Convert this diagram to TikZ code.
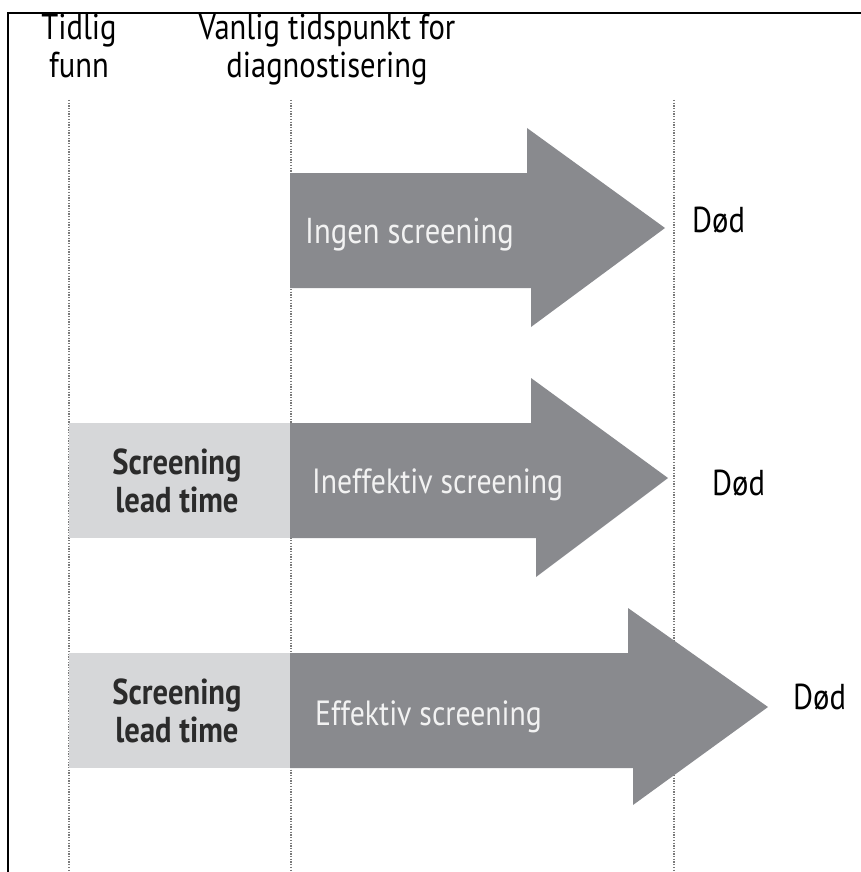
\documentclass[tikz,border=0pt]{standalone}
\usepackage{fontspec}
\setmainfont[FakeStretch=0.85]{PT Sans}
\usepackage{xcolor}
\definecolor{arrowgray}{HTML}{898A8E}
\definecolor{leadgray}{HTML}{D6D7D9}
\definecolor{leadtext}{HTML}{2B2B2B}
\definecolor{arrowtext}{HTML}{F2F2F2}
\definecolor{guidegray}{HTML}{7A7A7A}
\newcommand{\lblfont}{\fontsize{36}{38}\selectfont}
\newcommand{\dodfont}{\fontsize{36}{38}\selectfont}
\tikzset{
  lbl_n/.style = {inner sep=0pt, font=\lblfont, text=black},
  head_n/.style = {lbl_n, align=center, anchor=north},
  arr_txt/.style = {lbl_n, text=arrowtext, anchor=base west},
  lead_txt/.style = {lbl_n, font=\lblfont\bfseries, text=leadtext,
    align=center},
  dod_n/.style = {lbl_n, font=\dodfont, anchor=base west},
  guide/.style = {draw=guidegray, line width=1.5pt,
    dash pattern=on 1.3pt off 1.4pt},
  arr_fill/.style = {fill=arrowgray},
  lead_fill/.style = {fill=leadgray},
}

\begin{document}
\begin{tikzpicture}[x=1pt,y=-1pt]
  \useasboundingbox (0,0) rectangle (861,872);
  % frame, top and left only
  \draw[line width=2.2pt] (861,13) -- (8,13) -- (8,872);
  % time lines
  \foreach \gx in {69,291,674}
    \draw[guide] (\gx,100) -- (\gx,872);
  % headings
  \node [head_n] (early) at (79,14) {Tidlig\\funn};
  \node [head_n] (usual) at (327,14) {Vanlig tidspunkt for\\diagnostisering};
  % lead time boxes
  \fill[lead_fill] (69,423) rectangle (290,538);
  \fill[lead_fill] (69,653) rectangle (290,768);
  % arrows
  \fill[arr_fill] (290,173) -- (527,173) -- (527,128) -- (665,228)
    -- (531,327) -- (531,288) -- (290,288) -- cycle;
  \fill[arr_fill] (290,423) -- (531,423) -- (531,378) -- (668,478)
    -- (536,577) -- (536,538) -- (290,538) -- cycle;
  \fill[arr_fill] (290,653) -- (628,653) -- (628,608) -- (768,707)
    -- (633,805) -- (633,768) -- (290,768) -- cycle;
  % texts
  \node [arr_txt] (none) at (305,243) {Ingen screening};
  \node [arr_txt, font=\fontsize{35}{38}\selectfont] (ineff) at (312,493)
    {Ineffektiv screening};
  \node [arr_txt, font=\fontsize{35}{38}\selectfont] (eff) at (315,725)
    {Effektiv screening};
  \node [lead_txt] (lead1) at (177,481) {Screening\\lead time};
  \node [lead_txt] (lead2) at (177,711) {Screening\\lead time};
  \node [dod_n] (dod1) at (692,232) {Død};
  \node [dod_n] (dod2) at (712,495) {Død};
  \node [dod_n] (dod3) at (793,709) {Død};
\end{tikzpicture}
\end{document}
